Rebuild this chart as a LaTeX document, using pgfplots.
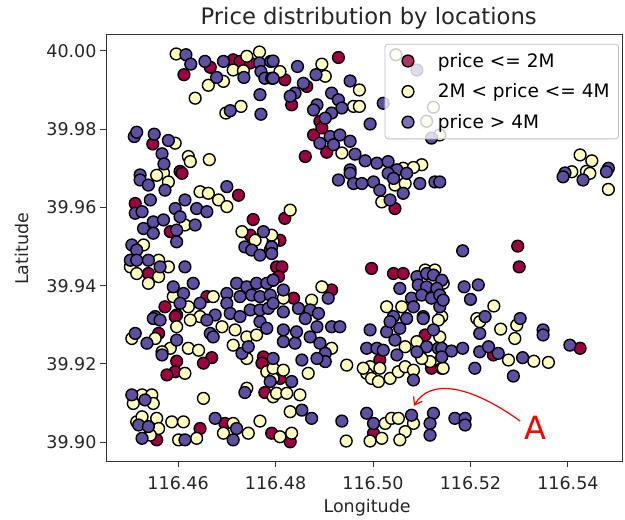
\documentclass[border=0pt]{standalone}
\usepackage{fontspec}
\setmainfont{DejaVu Sans}
\usepackage{pgfplots}
\pgfplotsset{compat=1.18}
\usetikzlibrary{arrows.meta}
\definecolor{cRed}{HTML}{9E0142}
\definecolor{cYel}{HTML}{FFFFBF}
\definecolor{cPur}{HTML}{5E4FA2}
\pgfplotsset{myleg/.style={legend image code/.code={\path[draw=none,fill=none] (0pt,0pt) (34pt,0pt);\draw[##1] plot coordinates {(17pt,0pt)};}}}
\begin{document}
\begin{tikzpicture}
\begin{axis}[
  scale only axis, width=516pt, height=427pt,
  xmin=116.4452, xmax=116.5511, ymin=39.8952, ymax=40.0043,
  xtick={116.46,116.48,116.50,116.52,116.54},
  xticklabels={116.46,116.48,116.50,116.52,116.54},
  ytick={39.90,39.92,39.94,39.96,39.98,40.00},
  yticklabels={39.90,39.92,39.94,39.96,39.98,40.00},
  /pgf/number format/assume math mode=true,
  tick pos=left, tick align=outside, major tick length=6pt,
  every tick/.style={black!80, line width=0.9pt},
  axis line style={black!80, line width=0.9pt},
  ticklabel style={font=\fontsize{17.5}{20}\selectfont, text=black!85},
  xticklabel style={yshift=-6pt},
  every axis title shift=0pt,
  title={Price distribution by locations},
  title style={font=\fontsize{22.7}{26}\selectfont, text=black!85, at={(axis description cs:0.509,1.0234)}, anchor=base},
  xlabel={Longitude},
  xlabel style={font=\fontsize{17.5}{20}\selectfont, text=black!85, at={(axis description cs:0.506,-0.110)}, anchor=center},
  ylabel={Latitude},
  ylabel style={font=\fontsize{17.5}{20}\selectfont, text=black!85, at={(axis description cs:-0.163,0.497)}, anchor=center, rotate=0},
  legend style={at={(axis description cs:0.994,0.977)}, anchor=north east, draw=black!25, line width=0.8pt, rounded corners=3pt, fill=white, fill opacity=0.8, text opacity=1, draw opacity=1, font=\fontsize{18.5}{21}\selectfont, row sep=9pt, column sep=10pt, inner sep=6pt, nodes={inner sep=3pt}},
  legend cell align=left,
]
\coordinate (sw) at (rel axis cs:0,0);
\coordinate (ne) at (rel axis cs:1,1);
\addplot[only marks, myleg, mark=*, mark size=5.9pt, mark options={fill=cRed, draw=black, line width=1.4pt}] table {
116.4612 39.9939
116.4666 39.9958
116.4713 39.9977
116.4727 39.9973
116.4748 39.9969
116.4548 39.9762
116.4604 39.9692
116.4819 39.9926
116.4929 39.9983
116.4864 39.9909
116.4833 39.9862
116.4891 39.9820
116.4878 39.9785
116.4895 39.9803
116.4905 39.9741
116.4861 39.9730
116.4608 39.9687
116.4512 39.9610
116.4584 39.9538
116.4724 39.9631
116.4754 39.9569
116.4539 39.9431
116.4573 39.9346
116.4659 39.9372
116.4597 39.9325
116.4795 39.9414
116.4748 39.9529
116.5045 39.9597
116.4819 39.9572
116.4809 39.9516
116.4802 39.9448
116.4813 39.9448
116.4806 39.9423
116.4997 39.9444
116.5042 39.9431
116.5062 39.9431
116.4915 39.9389
116.4837 39.9368
116.5297 39.9501
116.5300 39.9448
116.4594 39.9321
116.4560 39.9278
116.4669 39.9216
116.4652 39.9202
116.4597 39.9207
116.4594 39.9180
116.4577 39.9172
116.4775 39.9218
116.4772 39.9202
116.4778 39.9127
116.4556 39.9006
116.4645 39.9035
116.4696 39.9048
116.4792 39.9023
116.4809 39.9163
116.4830 39.9001
116.5014 39.9210
116.5107 39.9274
116.5120 39.9189
116.5001 39.9023
116.5425 39.9240
116.5247 39.9223
};
\addlegendentry{price <= 2M}
\addplot[only marks, myleg, mark=*, mark size=5.9pt, mark options={fill=cYel, draw=black, line width=1.4pt}] table {
116.4596 39.9992
116.4662 39.9912
116.4693 39.9922
116.4713 39.9951
116.4741 39.9986
116.4767 39.9997
116.4734 39.9949
116.4635 39.9879
116.4729 39.9858
116.4698 39.9841
116.4594 39.9764
116.4621 39.9730
116.4625 39.9717
116.4664 39.9722
116.4570 39.9688
116.4809 39.9947
116.4895 39.9966
116.4902 39.9935
116.4972 39.9900
116.4960 39.9858
116.4972 39.9858
116.4936 39.9739
116.5062 39.9700
116.5100 39.9709
116.5083 39.9702
116.5047 39.9990
116.5124 39.9856
116.5110 39.9820
116.5425 39.9734
116.5449 39.9719
116.5438 39.9692
116.5137 39.9785
116.4556 39.9682
116.4580 39.9665
116.4614 39.9555
116.4645 39.9640
116.4662 39.9636
116.4683 39.9619
116.4700 39.9602
116.4529 39.9504
116.4502 39.9448
116.4560 39.9465
116.4580 39.9448
116.4515 39.9431
116.4539 39.9406
116.4560 39.9423
116.4590 39.9372
116.4621 39.9346
116.4672 39.9372
116.4645 39.9321
116.4731 39.9538
116.4758 39.9516
116.4795 39.9512
116.5018 39.9614
116.5045 39.9657
116.5066 39.9661
116.4830 39.9593
116.4792 39.9529
116.5028 39.9346
116.5059 39.9346
116.4895 39.9397
116.4874 39.9363
116.4816 39.9368
116.5107 39.9440
116.5127 39.9440
116.5408 39.9691
116.5445 39.9687
116.5483 39.9646
116.5144 39.9406
116.5248 39.9348
116.5213 39.9316
116.5141 39.9321
116.4625 39.9312
116.4597 39.9295
116.4690 39.9295
116.4717 39.9287
116.4741 39.9269
116.4505 39.9265
116.4553 39.9265
116.4584 39.9240
116.4567 39.9231
116.4621 39.9240
116.4642 39.9235
116.4614 39.9176
116.4713 39.9248
116.4741 39.9214
116.4761 39.9274
116.4782 39.9180
116.4795 39.9163
116.4741 39.9138
116.4795 39.9116
116.4652 39.9112
116.4508 39.9099
116.4526 39.9121
116.4546 39.9121
116.4549 39.9099
116.4515 39.9052
116.4526 39.9065
116.4556 39.9061
116.4560 39.9035
116.4587 39.9052
116.4611 39.9052
116.4543 39.9018
116.4601 39.9006
116.4638 39.9010
116.4713 39.9048
116.4693 39.9023
116.4744 39.9023
116.4768 39.9054
116.4915 39.9240
116.4867 39.9176
116.4795 39.9189
116.4816 39.9184
116.4802 39.9125
116.4823 39.9125
116.4850 39.9121
116.4830 39.9078
116.4809 39.9014
116.4833 39.9023
116.4946 39.9197
116.4945 39.9003
116.5137 39.9269
116.5090 39.9257
116.5066 39.9244
116.4994 39.9193
116.5014 39.9189
116.4987 39.9176
116.4997 39.9163
116.5011 39.9155
116.5035 39.9163
116.5052 39.9180
116.5066 39.9193
116.5083 39.9184
116.5117 39.9206
116.5141 39.9189
116.5100 39.9214
116.4980 39.9189
116.5025 39.9048
116.5038 39.9061
116.5052 39.9061
116.5083 39.9048
116.5066 39.9027
116.5055 39.9006
116.4994 39.9003
116.5018 39.9010
116.5134 39.9312
116.5219 39.9308
116.5295 39.9299
116.5291 39.9265
116.5262 39.9289
116.5278 39.9210
116.5330 39.9207
116.5360 39.9204
116.5144 39.9189
};
\addlegendentry{2M < price <= 4M}
\addplot[only marks, myleg, mark=*, mark size=5.9pt, mark options={fill=cPur, draw=black, line width=1.4pt}] table {
116.4616 39.9990
116.4626 39.9966
116.4655 39.9973
116.4679 39.9932
116.4693 39.9973
116.4767 39.9969
116.4735 39.9932
116.4770 39.9947
116.4778 39.9930
116.4790 39.9973
116.4792 39.9930
116.4768 39.9888
116.4770 39.9838
116.4707 39.9847
116.4510 39.9781
116.4515 39.9792
116.4551 39.9787
116.4580 39.9771
116.4567 39.9737
116.4571 39.9711
116.4522 39.9683
116.4795 39.9974
116.4795 39.9930
116.4845 39.9960
116.4883 39.9939
116.4857 39.9917
116.4840 39.9892
116.4830 39.9884
116.4915 39.9892
116.4929 39.9875
116.4953 39.9923
116.4936 39.9854
116.4885 39.9862
116.4878 39.9849
116.4915 39.9841
116.4902 39.9828
116.4994 39.9813
116.4912 39.9781
116.4932 39.9785
116.4953 39.9769
116.4891 39.9764
116.4919 39.9760
116.4963 39.9736
116.4984 39.9719
116.5008 39.9713
116.5031 39.9717
116.4953 39.9696
116.5049 39.9696
116.5120 39.9777
116.5021 39.9866
116.5090 39.9951
116.5483 39.9700
116.5394 39.9688
116.4522 39.9670
116.4539 39.9657
116.4573 39.9644
116.4543 39.9619
116.4512 39.9585
116.4526 39.9589
116.4529 39.9546
116.4549 39.9563
116.4570 39.9568
116.4549 39.9534
116.4597 39.9542
116.4597 39.9512
116.4635 39.9555
116.4594 39.9597
116.4614 39.9619
116.4604 39.9576
116.4638 39.9597
116.4659 39.9589
116.4700 39.9653
116.4505 39.9504
116.4515 39.9491
116.4502 39.9465
116.4515 39.9465
116.4539 39.9465
116.4563 39.9448
116.4614 39.9448
116.4590 39.9397
116.4611 39.9380
116.4631 39.9406
116.4604 39.9355
116.4645 39.9355
116.4553 39.9321
116.4676 39.9325
116.4700 39.9380
116.4720 39.9406
116.4741 39.9397
116.4761 39.9406
116.4782 39.9406
116.4700 39.9355
116.4727 39.9372
116.4751 39.9376
116.4768 39.9372
116.4789 39.9376
116.4707 39.9329
116.4748 39.9338
116.4768 39.9338
116.4785 39.9342
116.4727 39.9321
116.4775 39.9538
116.4737 39.9499
116.4751 39.9491
116.4768 39.9478
116.4789 39.9491
116.4929 39.9670
116.4953 39.9687
116.4960 39.9661
116.4977 39.9661
116.5001 39.9665
116.5014 39.9644
116.5035 39.9619
116.5031 39.9687
116.5042 39.9674
116.5062 39.9636
116.5069 39.9687
116.5096 39.9661
116.5127 39.9665
116.4792 39.9499
116.4792 39.9482
116.4795 39.9414
116.5090 39.9423
116.5110 39.9431
116.5124 39.9427
116.5141 39.9414
116.5055 39.9393
116.5093 39.9402
116.5110 39.9397
116.5131 39.9393
116.5079 39.9368
116.5100 39.9376
116.5120 39.9368
116.5137 39.9376
116.5083 39.9346
116.5103 39.9321
116.5137 39.9346
116.5042 39.9321
116.4816 39.9389
116.4908 39.9368
116.4816 39.9333
116.4847 39.9342
116.4871 39.9338
116.4888 39.9329
116.4795 39.9355
116.5137 39.9665
116.5390 39.9678
116.5431 39.9670
116.5479 39.9691
116.5184 39.9489
116.5144 39.9363
116.5187 39.9397
116.5216 39.9402
116.5200 39.9365
116.5230 39.9321
116.5302 39.9316
116.4549 39.9316
116.4563 39.9312
116.4659 39.9312
116.4666 39.9278
116.4672 39.9269
116.4512 39.9278
116.4536 39.9253
116.4597 39.9261
116.4567 39.9223
116.4731 39.9227
116.4744 39.9244
116.4768 39.9308
116.4782 39.9291
116.4789 39.9155
116.4737 39.9127
116.4505 39.9121
116.4532 39.9108
116.4519 39.9044
116.4539 39.9040
116.4526 39.9010
116.4614 39.9006
116.4676 39.9061
116.4720 39.9035
116.4713 39.9006
116.4816 39.9287
116.4816 39.9257
116.4840 39.9253
116.4843 39.9282
116.4861 39.9316
116.4885 39.9295
116.4915 39.9295
116.4932 39.9295
116.4871 39.9269
116.4891 39.9253
116.4902 39.9227
116.4902 39.9206
116.4885 39.9214
116.4854 39.9210
116.4795 39.9214
116.4833 39.9155
116.4854 39.9082
116.4874 39.9061
116.4936 39.9054
116.4994 39.9287
116.5028 39.9282
116.5035 39.9308
116.5055 39.9291
116.5069 39.9316
116.5103 39.9316
116.5124 39.9287
116.5045 39.9261
116.4987 39.9240
116.5008 39.9240
116.5021 39.9235
116.5110 39.9244
116.5134 39.9240
116.5049 39.9223
116.5090 39.9231
116.5083 39.9159
116.4987 39.9074
116.5001 39.9048
116.5079 39.9069
116.5124 39.9074
116.5117 39.9048
116.5117 39.9018
116.5219 39.9278
116.5349 39.9287
116.5349 39.9274
116.5404 39.9248
116.5141 39.9240
116.5161 39.9233
116.5184 39.9240
116.5141 39.9218
116.5219 39.9231
116.5237 39.9244
116.5257 39.9227
116.5307 39.9216
116.5209 39.9189
116.5288 39.9169
116.5168 39.9061
116.5189 39.9061
116.5189 39.9044
};
\addlegendentry{price > 4M}
\draw[red, line width=1.2pt, -{Straight Barb[length=7pt,width=10pt]}] (axis cs:116.5302,39.9054) .. controls (axis cs:116.5199,39.9146) and (axis cs:116.5117,39.9164) .. (axis cs:116.5084,39.9093);
\node[red, font=\fontsize{32}{32}\selectfont, anchor=center] at (axis cs:116.5334,39.9036) {A};
\end{axis}
\pgfresetboundingbox
\path[use as bounding box] ([xshift=-106pt,yshift=-58pt]sw) rectangle ([xshift=3pt,yshift=34pt]ne);
\end{tikzpicture}
\end{document}
